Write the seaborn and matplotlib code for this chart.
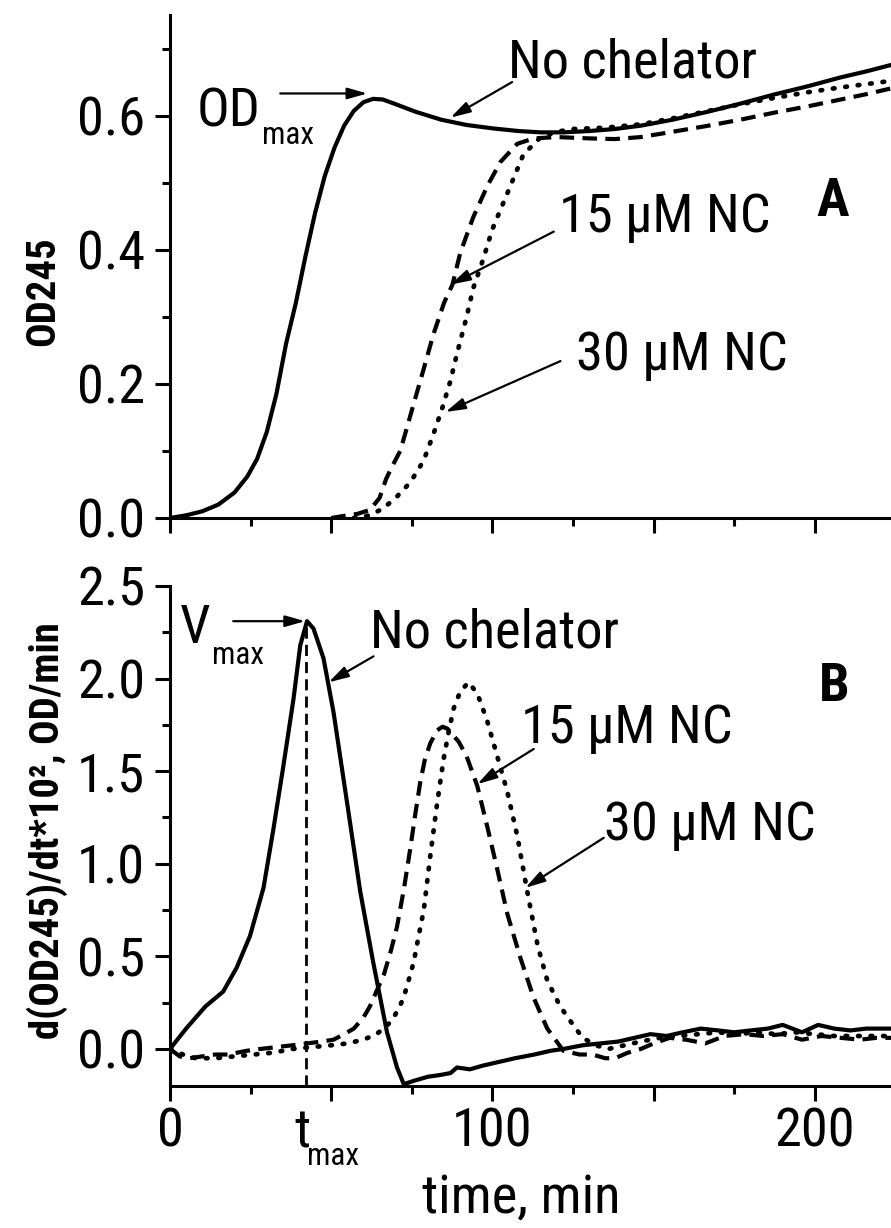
import numpy as np
import pandas as pd
import matplotlib
matplotlib.use("Agg")
import matplotlib.pyplot as plt
import matplotlib.transforms as mtransforms
from matplotlib import font_manager as fm
from matplotlib.ticker import MultipleLocator, FuncFormatter
import seaborn as sns

# ---------------- data ----------------
# Panel A: OD245 vs time
t_A_none = [0, 5, 10, 15, 20, 24, 27, 30, 33, 36, 39, 42, 45, 48, 51, 54, 57, 60, 63, 66,
            70, 76, 84, 92, 100, 108, 115, 122, 130, 138, 146, 156, 167, 177, 187, 198,
            208, 216, 224]
od_A_none = [0, 0.004, 0.01, 0.02, 0.038, 0.062, 0.088, 0.128, 0.185, 0.26, 0.32, 0.39,
             0.455, 0.51, 0.552, 0.585, 0.607, 0.62, 0.625, 0.624, 0.617, 0.606, 0.594,
             0.586, 0.581, 0.577, 0.575, 0.575, 0.577, 0.58, 0.585, 0.594, 0.606, 0.618,
             0.631, 0.644, 0.657, 0.666, 0.676]

t_A_15 = [50, 55, 58, 62, 65, 67, 69, 71.4, 73.5, 75.5, 78.6, 81.7, 85, 87.6, 90, 94, 98.4,
          102.5, 107.7, 112.8, 120, 130, 138, 146, 156, 167, 177, 187, 198, 208, 216, 224]
od_A_15 = [0, 0.004, 0.006, 0.012, 0.03, 0.058, 0.078, 0.1, 0.135, 0.169, 0.221, 0.274,
           0.321, 0.348, 0.395, 0.448, 0.495, 0.531, 0.558, 0.566, 0.568, 0.566, 0.565,
           0.568, 0.576, 0.585, 0.594, 0.604, 0.614, 0.624, 0.632, 0.641]

t_A_30 = [57, 62, 66, 70, 74.5, 78.6, 81.7, 84.5, 87, 89, 92, 94, 97, 100, 104.6, 109.6,
          115, 120, 125, 135, 146, 156, 167, 177, 187, 198, 208, 216, 224]
od_A_30 = [0, 0.004, 0.014, 0.03, 0.053, 0.085, 0.125, 0.165, 0.205, 0.245, 0.3, 0.342,
           0.384, 0.431, 0.484, 0.542, 0.568, 0.576, 0.58, 0.582, 0.587, 0.596, 0.607,
           0.617, 0.626, 0.635, 0.642, 0.647, 0.652]

# Panel B: d(OD245)/dt * 10^2
t_B_none = [0, 5, 11, 16.5, 20.7, 24.8, 29, 32, 35, 38.3, 40.4, 42.5, 44.5, 47.6, 50.7, 55,
            59, 63, 67.3, 70.4, 72.5, 76, 80, 84, 87, 89, 93, 97, 102, 107, 113, 118, 122,
            128, 133.5, 139, 144, 149, 154, 159, 164.6, 170, 175, 180, 185.4, 190, 196,
            201, 206, 211, 216, 224]
v_B_none = [0.0, 0.11, 0.23, 0.31, 0.44, 0.61, 0.87, 1.18, 1.51, 1.89, 2.18, 2.31, 2.27,
            2.11, 1.82, 1.32, 0.85, 0.47, 0.09, -0.10, -0.19, -0.17, -0.15, -0.14, -0.13,
            -0.10, -0.11, -0.09, -0.07, -0.05, -0.03, -0.01, 0.0, 0.02, 0.03, 0.04, 0.06,
            0.08, 0.07, 0.09, 0.11, 0.10, 0.09, 0.10, 0.11, 0.13, 0.09, 0.13, 0.11, 0.10,
            0.11, 0.11]

t_B_15 = [0, 3, 6, 10, 14, 18, 23.7, 28, 33, 38, 42.5, 47, 50.7, 54, 57, 60, 62, 64, 66.3,
          68.5, 70.4, 72.5, 74.5, 76, 77.6, 79, 80.7, 82.8, 84.5, 86, 88, 89.5, 92, 95.3,
          98.4, 101.5, 104.6, 108.7, 112.7, 117, 122, 127, 131, 135, 138, 142, 146, 150,
          155, 160, 166, 172, 178, 184, 190, 196, 202, 208, 214, 219, 224]
v_B_15 = [0.0, -0.04, -0.05, -0.04, -0.03, -0.03, -0.01, 0.0, 0.01, 0.02, 0.03, 0.04,
          0.05, 0.08, 0.11, 0.17, 0.23, 0.31, 0.40, 0.53, 0.66, 0.86, 1.08, 1.26, 1.44,
          1.56, 1.65, 1.72, 1.74, 1.73, 1.69, 1.66, 1.58, 1.42, 1.20, 0.97, 0.73, 0.49,
          0.28, 0.11, -0.01, -0.03, -0.03, -0.05, -0.05, -0.02, 0.0, 0.03, 0.06, 0.05,
          0.03, 0.07, 0.08, 0.07, 0.08, 0.05, 0.07, 0.06, 0.05, 0.06, 0.06]

t_B_30 = [0, 4, 8, 14, 20, 26, 32, 38, 44, 50, 55, 60, 64, 67, 69, 71, 72.5, 74, 75.6, 77,
          78.7, 80.7, 82.8, 84.8, 86.5, 88, 90, 92.6, 95.3, 98.4, 101.5, 104.6, 107.7,
          110.8, 114, 117, 121, 125, 128, 132, 136, 141, 146, 152, 158, 164, 170, 176,
          182, 188, 194, 200, 206, 212, 218, 224]
v_B_30 = [0.0, -0.03, -0.05, -0.05, -0.04, -0.03, -0.02, 0.0, 0.01, 0.02, 0.03, 0.05,
          0.08, 0.12, 0.16, 0.22, 0.28, 0.37, 0.47, 0.6, 0.75, 1.04, 1.32, 1.56, 1.72,
          1.84, 1.93, 1.98, 1.92, 1.77, 1.58, 1.39, 1.15, 0.85, 0.56, 0.37, 0.23, 0.13,
          0.06, 0.02, 0.0, 0.02, 0.04, 0.06, 0.07, 0.08, 0.09, 0.08, 0.09, 0.08, 0.09,
          0.08, 0.07, 0.07, 0.07, 0.07]

t_max = 42.3      # time of maximal rate
v_max = 2.31      # maximal rate

x_ticks_labeled = [0, 100, 200]
series_labels = ["No chelator", "15 \u03bcM NC", "30 \u03bcM NC"]
ylabel_A = "OD245"
ylabel_B = "d(OD245)/dt*10\u00b2, OD/min"
xlabel = "time, min"

# ---------------- style ----------------
sns.set_theme(style="ticks")


def pick_font():
    entries = fm.fontManager.ttflist
    names = {f.name for f in entries}
    for c in ["Liberation Sans Narrow", "Arial Narrow", "Nimbus Sans Narrow",
              "Roboto Condensed", "Noto Sans Condensed", "Open Sans Condensed",
              "DejaVu Sans Condensed"]:
        if c in names:
            return c, "normal"
    for base in ["Noto Sans", "Open Sans", "Roboto", "DejaVu Sans", "Liberation Sans"]:
        for f in entries:
            if f.name == base and str(f.stretch) == "condensed":
                return base, "condensed"
    return "Liberation Sans", "normal"


FONT, STRETCH = pick_font()
plt.rcParams["font.family"] = [FONT, "DejaVu Sans"]
plt.rcParams["font.stretch"] = STRETCH
plt.rcParams["axes.linewidth"] = 2.2
plt.rcParams["text.color"] = "black"
plt.rcParams["axes.edgecolor"] = "black"
plt.rcParams["xtick.color"] = "black"
plt.rcParams["ytick.color"] = "black"

fig = plt.figure(figsize=(8.91, 12.28), dpi=100)
fig.patch.set_facecolor("white")
W, H = 891.0, 1228.0

# fit font sizes to the widths measured on the reference
renderer = fig.canvas.get_renderer()


def width_px(s, size, weight="normal"):
    t = fig.text(0, 0, s, fontsize=size, fontweight=weight)
    w = t.get_window_extent(renderer=renderer).width
    t.remove()
    return w


FS = min(44.0, 42.0 * 212.0 / width_px(series_labels[1], 42.0))
FS_SUB = FS * 24.0 / 42.0
FS_YL = min(33.0, 32.0 * 417.0 / width_px(ylabel_B, 32.0, "bold"))

axA = fig.add_axes([170 / W, 1 - 518 / H, 721 / W, 503 / H])
axB = fig.add_axes([170 / W, 1 - 1086 / H, 721 / W, 500 / H])

LW = 3.0
styles = {
    "solid": dict(linestyle="-", lw=LW),
    "dash": dict(linestyle=(0, (3.5, 2.0)), lw=LW),
    "dot": dict(linestyle=(0, (0.35, 2.3)), dash_capstyle="round", lw=3.4),
}


def draw(ax, t, y, st):
    df = pd.DataFrame({"t": t, "y": y})
    sns.lineplot(data=df, x="t", y="y", ax=ax, color="black",
                 estimator=None, sort=False, legend=False, **styles[st])


draw(axA, t_A_none, od_A_none, "solid")
draw(axA, t_A_15, od_A_15, "dash")
draw(axA, t_A_30, od_A_30, "dot")
draw(axB, t_B_none, v_B_none, "solid")
draw(axB, t_B_15, v_B_15, "dash")
draw(axB, t_B_30, v_B_30, "dot")

YMIN_B = -0.2
axB.vlines(t_max, YMIN_B, v_max, colors="black", linewidth=2.0,
           linestyles=(0, (4, 2.2)))

for ax in (axA, axB):
    ax.set_xlim(0, 223.6)
    ax.spines["top"].set_visible(False)
    ax.spines["right"].set_visible(False)
    ax.set_xlabel("")
    ax.set_ylabel("")
    ax.xaxis.set_major_locator(MultipleLocator(50))
    ax.xaxis.set_minor_locator(MultipleLocator(25))
    ax.tick_params(which="major", direction="out", length=10.8, width=2.2,
                   labelsize=FS)
    ax.tick_params(which="minor", direction="out", length=6, width=2.2)
    ax.tick_params(axis="y", which="major", pad=7)
    ax.tick_params(axis="x", which="major", pad=4)

axA.set_ylim(0, 0.75)
axA.yaxis.set_major_locator(MultipleLocator(0.2))
axA.yaxis.set_minor_locator(MultipleLocator(0.1))
axA.yaxis.set_major_formatter(FuncFormatter(lambda v, p: f"{v:.1f}"))
axA.tick_params(axis="x", labelbottom=False)

axB.set_ylim(YMIN_B, 2.5)
axB.yaxis.set_major_locator(MultipleLocator(0.5))
axB.yaxis.set_minor_locator(MultipleLocator(0.25))
axB.yaxis.set_major_formatter(FuncFormatter(lambda v, p: f"{v:.1f}"))
axB.xaxis.set_major_formatter(FuncFormatter(
    lambda v, p: f"{v:.0f}" if round(v) in x_ticks_labeled else ""))

# ---------------- annotations ----------------
AP = dict(arrowstyle="-|>,head_length=0.6,head_width=0.17", lw=1.6, color="black",
          shrinkA=0, shrinkB=0, mutation_scale=20)


def label(ax, x, y, s, size=None, ha="left", weight="normal"):
    ax.text(x, y, s, fontsize=size or FS, ha=ha, va="baseline", fontweight=weight,
            color="black")


def arrow(ax, tail, head):
    ax.annotate("", xy=head, xytext=tail, arrowprops=AP)


# Panel A
label(axA, 104.7, 0.657, series_labels[0])
arrow(axA, (106.1, 0.650), (87.0, 0.597))
label(axA, 120.5, 0.427, series_labels[1])
arrow(axA, (119.0, 0.427), (87.0, 0.348))
label(axA, 125.8, 0.221, series_labels[2])
arrow(axA, (121.1, 0.234), (85.4, 0.158))
label(axA, 205.4, 0.451, "A", ha="center", weight="bold")
label(axA, 28.0, 0.584, "OD", ha="right")
label(axA, 28.6, 0.558, "max", size=FS_SUB)
arrow(axA, (34.2, 0.633), (61.2, 0.633))

# Panel B
label(axB, 62.1, 2.17, series_labels[0])
arrow(axB, (63.1, 2.12), (49.2, 1.98))
label(axB, 108.7, 1.65, series_labels[1])
arrow(axB, (112.8, 1.62), (95.3, 1.43))
label(axB, 134.5, 1.13, series_labels[2])
arrow(axB, (134.5, 1.14), (110.2, 0.87))
label(axB, 205.9, 1.88, "B", ha="center", weight="bold")
label(axB, 12.4, 2.19, "V", ha="right")
label(axB, 13.0, 2.08, "max", size=FS_SUB)
arrow(axB, (19.6, v_max), (41.9, v_max))

# t_max under the axis
trans = mtransforms.blended_transform_factory(axB.transData, fig.transFigure)
fig.text(43.5, 1 - 1147 / H, "t", transform=trans, fontsize=FS, ha="right",
         va="baseline")
fig.text(42.5, 1 - 1165 / H, "max", transform=trans, fontsize=FS_SUB, ha="left",
         va="baseline")

# axis titles
fig.text(521 / W, 1 - 1213 / H, xlabel, fontsize=FS, ha="center", va="baseline")
fig.text(43.5 / W, 1 - 291 / H, ylabel_A, fontsize=FS_YL, fontweight="bold",
         rotation=90, ha="center", va="center")
fig.text(47 / W, 1 - 831 / H, ylabel_B, fontsize=FS_YL,
         fontweight="bold", rotation=90, ha="center", va="center")

fig.savefig("out.png", dpi=100, facecolor="white")
